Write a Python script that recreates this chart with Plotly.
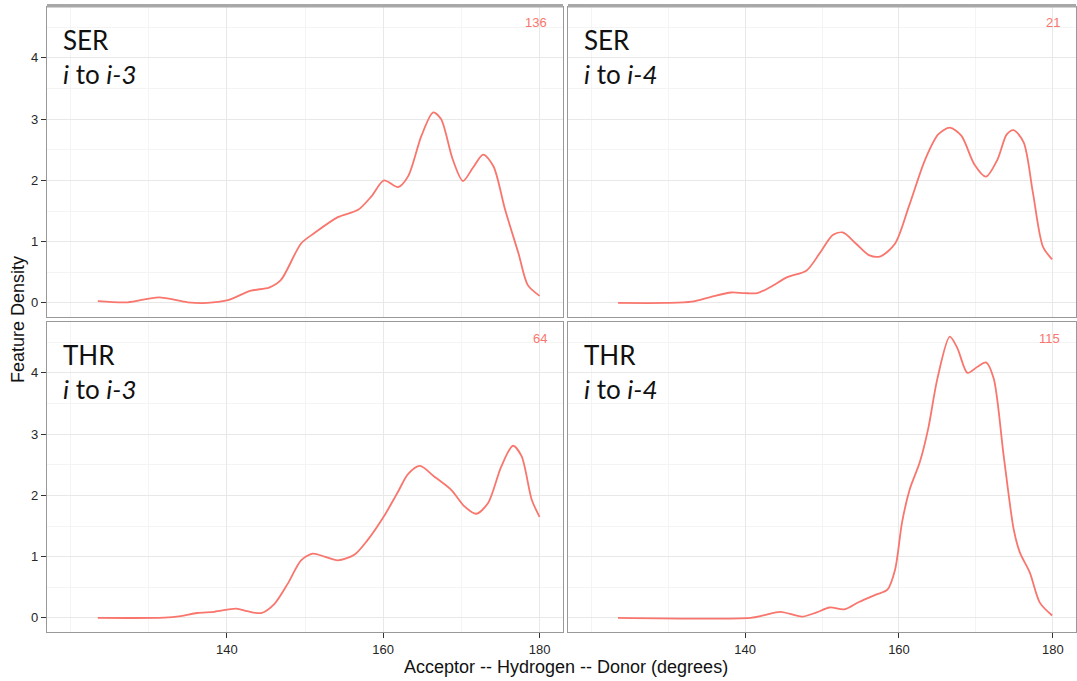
import plotly.graph_objects as go

# Density curves, one per residue / helix-position facet
ser_i3_x = [123.5, 127.3, 131.3, 135.0, 137.5, 140.0, 143.1, 145.4, 146.9, 149.5, 151.2, 154.2, 156.8, 158.5,
            160.1, 161.9, 163.2, 164.9, 166.4, 167.4, 168.9, 170.2, 171.5, 172.8, 174.1, 175.6, 177.3, 178.5, 180.0]
ser_i3_y = [0.03, 0.01, 0.09, 0.01, 0.0, 0.04, 0.20, 0.25, 0.37, 0.97, 1.14, 1.40, 1.52, 1.74,
            2.00, 1.89, 2.07, 2.73, 3.11, 3.00, 2.34, 1.99, 2.21, 2.42, 2.23, 1.52, 0.81, 0.29, 0.115]

ser_i4_x = [123.5, 129.6, 133.1, 135.6, 138.2, 139.9, 141.6, 143.3, 145.5, 148.0, 149.7, 151.4, 152.7, 154.4,
            156.1, 157.6, 159.5, 161.3, 163.4, 165.1, 166.6, 168.1, 169.8, 171.3, 172.8, 174.0, 174.9, 176.2,
            177.4, 178.7, 179.9]
ser_i4_y = [0.0, 0.0, 0.02, 0.10, 0.17, 0.16, 0.16, 0.26, 0.42, 0.53, 0.81, 1.11, 1.15, 0.97,
            0.78, 0.76, 0.97, 1.58, 2.34, 2.75, 2.86, 2.73, 2.26, 2.06, 2.34, 2.75, 2.82, 2.62,
            1.80, 0.92, 0.71]

thr_i3_x = [123.5, 132.0, 134.1, 136.2, 138.4, 141.2, 142.6, 144.4, 146.1, 147.8, 149.5, 151.0, 152.5, 154.2,
            156.3, 158.0, 160.2, 161.9, 163.2, 164.7, 166.6, 168.7, 170.4, 171.9, 173.4, 175.1, 176.6, 177.7,
            179.0, 180.0]
thr_i3_y = [0.0, 0.005, 0.03, 0.08, 0.10, 0.15, 0.11, 0.08, 0.23, 0.56, 0.94, 1.05, 1.00, 0.94,
            1.03, 1.27, 1.68, 2.06, 2.35, 2.48, 2.30, 2.09, 1.82, 1.70, 1.87, 2.47, 2.81, 2.64,
            1.93, 1.65]

thr_i4_x = [123.5, 140.7, 142.4, 144.6, 147.4, 149.3, 151.0, 152.9, 154.8, 157.0, 158.5, 159.5, 160.4, 161.4,
            162.7, 163.8, 165.0, 166.6, 167.6, 168.9, 170.2, 171.3, 172.3, 173.6, 174.9, 175.7, 177.0, 178.3,
            179.9]
thr_i4_y = [0.0, 0.0, 0.04, 0.10, 0.02, 0.09, 0.17, 0.14, 0.26, 0.38, 0.46, 0.79, 1.56, 2.10,
            2.54, 3.09, 3.91, 4.59, 4.40, 4.00, 4.10, 4.17, 3.91, 2.65, 1.45, 1.07, 0.74, 0.25,
            0.04]

residues = ["SER", "SER", "THR", "THR"]
positions = ["i-3", "i-4", "i-3", "i-4"]
counts = ["136", "21", "64", "115"]
series_x = [ser_i3_x, ser_i4_x, thr_i3_x, thr_i4_x]
series_y = [ser_i3_y, ser_i4_y, thr_i3_y, thr_i4_y]

x_major = [140, 160, 180]
x_minor = [120, 130, 150, 170]
y_major = [0, 1, 2, 3, 4]
y_minor = [0.5, 1.5, 2.5, 3.5, 4.5]

W, H = 1077, 681
LINE = "#F8766D"
TICKFONT = dict(family="Liberation Sans", size=13, color="#262626")

# panel pixel boxes: (left, right, top, bottom)
boxes = [(47, 563, 7, 317), (568, 1076, 7, 317),
         (47, 563, 322, 632), (568, 1076, 322, 632)]

fig = go.Figure()
layout = {}
annotations = []
shapes = []

for i, (l, r, t, b) in enumerate(boxes):
    n = i + 1
    xa = "xaxis" if n == 1 else f"xaxis{n}"
    ya = "yaxis" if n == 1 else f"yaxis{n}"
    xref = "x" if n == 1 else f"x{n}"
    yref = "y" if n == 1 else f"y{n}"
    bottom_row = i >= 2
    left_col = i % 2 == 0

    layout[xa] = dict(
        domain=[l / W, r / W], anchor=yref, range=[117, 183],
        tickvals=x_major, ticktext=[str(v) for v in x_major],
        showticklabels=bottom_row, ticks="outside" if bottom_row else "",
        ticklen=5, tickwidth=1.2, tickcolor="#333333",
        tickfont=TICKFONT,
        showgrid=True, gridcolor="#e8e8e8", gridwidth=1,
        minor=dict(tickvals=x_minor, showgrid=True, gridcolor="#f4f4f4", gridwidth=1, ticks=""),
        showline=True, mirror=True, linecolor="#999999", linewidth=1.4,
        zeroline=False, fixedrange=True,
    )
    layout[ya] = dict(
        domain=[1 - b / H, 1 - t / H], anchor=xref, range=[-0.23, 4.83],
        tickvals=y_major, ticktext=[str(v) for v in y_major],
        showticklabels=left_col, ticks="outside" if left_col else "",
        ticklen=5, tickwidth=1.2, tickcolor="#333333",
        tickfont=TICKFONT,
        showgrid=True, gridcolor="#e8e8e8", gridwidth=1,
        minor=dict(tickvals=y_minor, showgrid=True, gridcolor="#f4f4f4", gridwidth=1, ticks=""),
        showline=True, mirror=True, linecolor="#999999", linewidth=1.4,
        zeroline=False, fixedrange=True,
    )

    fig.add_trace(go.Scatter(
        x=series_x[i], y=series_y[i], xaxis=xref, yaxis=yref,
        mode="lines", line=dict(color=LINE, width=1.8, shape="spline", smoothing=0.8),
        showlegend=False, hoverinfo="skip",
    ))

    annotations.append(dict(
        xref=f"{xref} domain", yref=f"{yref} domain",
        x=14 / (r - l), y=1 - 15 / (b - t), xanchor="left", yanchor="top",
        text=f"{residues[i]}<br><i>i</i> to <i>{positions[i]}</i>",
        showarrow=False, align="left",
        font=dict(family="Lato", size=26, color="#111111"),
    ))
    annotations.append(dict(
        xref=f"{xref} domain", yref=f"{yref} domain",
        x=1 - 14 / (r - l), y=1 - 16 / (b - t), xanchor="right", yanchor="middle",
        text=counts[i], showarrow=False,
        font=dict(family="Liberation Sans", size=13, color=LINE),
    ))

    if not bottom_row:
        shapes.append(dict(
            type="rect", xref="paper", yref="paper",
            x0=l / W, x1=r / W, y0=1 - 7.5 / H, y1=1 - 4 / H,
            fillcolor="#a8a8a8", line=dict(width=0), layer="above",
        ))

annotations.append(dict(
    xref="paper", yref="paper", x=566 / W, y=1 - 667 / H,
    xanchor="center", yanchor="middle", showarrow=False,
    text="Acceptor -- Hydrogen -- Donor (degrees)",
    font=dict(family="Liberation Sans", size=18, color="#111111"),
))
annotations.append(dict(
    xref="paper", yref="paper", x=18 / W, y=1 - 320 / H,
    xanchor="center", yanchor="middle", showarrow=False, textangle=-90,
    text="Feature Density",
    font=dict(family="Liberation Sans", size=18, color="#111111"),
))

fig.update_layout(
    width=W, height=H, autosize=False,
    margin=dict(l=0, r=0, t=0, b=0),
    paper_bgcolor="white", plot_bgcolor="white",
    annotations=annotations, shapes=shapes,
    **layout,
)

fig.write_html("out.html")
